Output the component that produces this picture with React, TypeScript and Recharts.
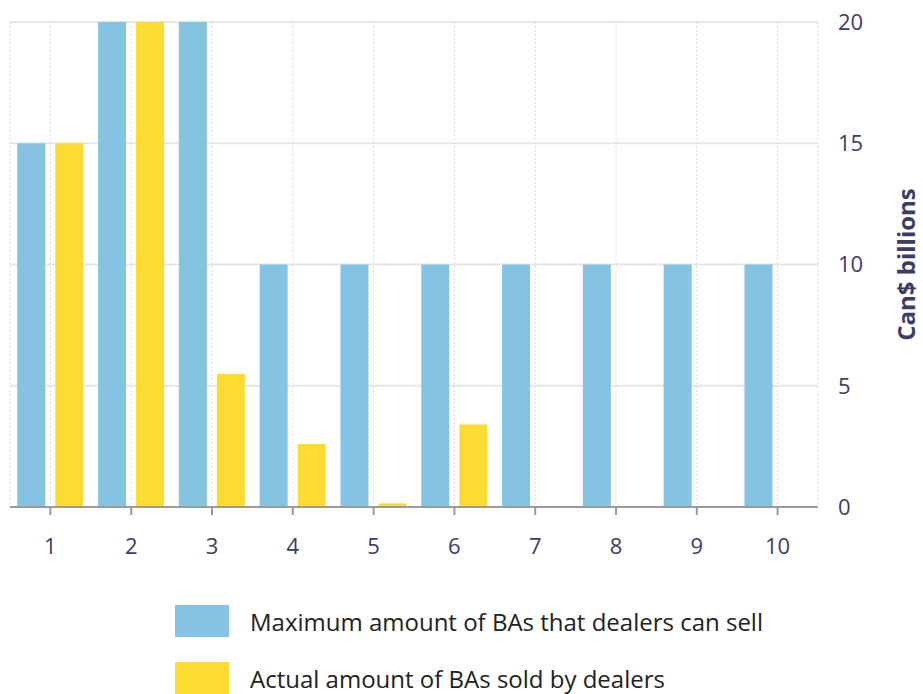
import { Bar, BarChart, CartesianGrid, XAxis, YAxis } from 'recharts';

const periods = ['1', '2', '3', '4', '5', '6', '7', '8', '9', '10'];
const maxAmount = [15, 20, 20, 10, 10, 10, 10, 10, 10, 10];
const actualAmount = [15, 20, 5.5, 2.6, 0.15, 3.4, 0, 0, 0, 0];
const yTicks = [0, 5, 10, 15, 20];

const BLUE = '#85c3e3';
const YELLOW = '#fddc32';
const INK = '#3b3c68';

const rows = periods.map((period, i) => ({
  period,
  max: maxAmount[i],
  actual: actualAmount[i],
}));

const legendItems = [
  { label: 'Maximum amount of BAs that dealers can sell', color: BLUE, top: 605 },
  { label: 'Actual amount of BAs sold by dealers', color: YELLOW, top: 662 },
];

export default function App() {
  return (
    <div
      style={{
        position: 'absolute',
        left: 0,
        top: 0,
        width: 923,
        height: 694,
        background: '#fff',
        fontFamily: '"Open Sans", sans-serif',
        overflow: 'hidden',
      }}
    >
      <BarChart
        width={923}
        height={590}
        data={rows}
        margin={{ top: 22, right: 0, bottom: 0, left: 10 }}
        barCategoryGap="9%"
        barGap={10}
      >
        <CartesianGrid vertical={false} stroke="#e6e6e6" strokeWidth={2} />
        <CartesianGrid horizontal={false} stroke="#dcdcdc" strokeDasharray="2 2" />
        <XAxis
          dataKey="period"
          axisLine={{ stroke: '#9a9a9a', strokeWidth: 2 }}
          tickLine={{ stroke: '#9a9a9a', strokeWidth: 2 }}
          tickSize={8}
          tickMargin={23}
          tick={{ fill: INK, fontSize: 22 }}
          height={83}
        />
        <YAxis
          orientation="right"
          domain={[0, 20]}
          ticks={yTicks}
          axisLine={false}
          tickLine={false}
          tickSize={0}
          tickMargin={20}
          tick={{ fill: INK, fontSize: 22, textAnchor: 'start' }}
          width={105}
          label={{
            value: 'Can$ billions',
            angle: -90,
            position: 'insideRight',
            offset: 17,
            style: { fill: INK, fontSize: 24, fontWeight: 700, textAnchor: 'middle' },
          }}
        />
        <Bar dataKey="max" fill={BLUE} isAnimationActive={false} />
        <Bar dataKey="actual" fill={YELLOW} isAnimationActive={false} />
      </BarChart>
      {legendItems.map((item) => (
        <div
          key={item.label}
          style={{
            position: 'absolute',
            left: 175,
            top: item.top,
            display: 'flex',
            alignItems: 'center',
            height: 32,
          }}
        >
          <div style={{ width: 54, height: 32, background: item.color }} />
          <span style={{ marginLeft: 21, fontSize: 24, color: '#222', whiteSpace: 'nowrap' }}>{item.label}</span>
        </div>
      ))}
    </div>
  );
}
